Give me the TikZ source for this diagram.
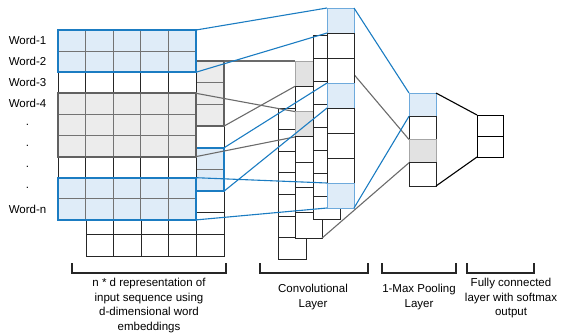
\documentclass[tikz,border=0pt]{standalone}
\usepackage{fontspec}
\setmainfont{Liberation Sans}
\usepackage{tikz}
\definecolor{cnnblue}{RGB}{27,124,194}
\definecolor{skyblue}{RGB}{110,170,220}
\definecolor{lightblue}{RGB}{223,236,248}
\definecolor{lightgrey}{RGB}{236,236,236}
\definecolor{midgrey}{RGB}{226,226,226}

\begin{document}
\begin{tikzpicture}
		[x=1pt, y=-1pt,
		cell/.style = {draw=black!85, line width=0.9pt, fill=white, inner sep=0pt, outer sep=0pt, anchor=north west},
		wblue/.style = {cell, fill=lightblue, draw=black!55},
		wgrey/.style = {cell, fill=lightgrey, draw=black!55},
		bluecell/.style = {cell, fill=lightblue, draw=skyblue, line width=1pt},
		greycell/.style = {cell, fill=midgrey, draw=black!35, line width=1pt},
		bluebox/.style = {draw=cnnblue, line width=2.2pt, inner sep=0pt, outer sep=0pt, anchor=north west},
		greybox/.style = {draw=black!62, line width=2.2pt, inner sep=0pt, outer sep=0pt, anchor=north west},
		bluelink/.style = {draw=cnnblue, line width=1.1pt},
		greylink/.style = {draw=black!58, line width=1.1pt},
		blacklink/.style = {draw=black, line width=1.1pt},
		brace/.style = {draw=black!85, line width=1.2pt},
		word/.style = {font=\fontsize{11.5}{14}\selectfont, inner sep=0pt},
		caption/.style = {font=\fontsize{11.5}{14.5}\selectfont, align=center, inner sep=0pt, anchor=north}]
	\useasboundingbox (0,0) rectangle (561,335);

	\foreach \r/\s in {0/wgrey,1/wgrey,2/wgrey,3/cell,4/wblue,5/wblue,6/cell,7/cell,8/cell}
		\foreach \c in {0,...,4}
			\node[\s, minimum width=27.6pt, minimum height=21.7pt] (b\r-\c) at ({86+27.6*\c},{61+21.7*\r}) {};
	\node[greybox, minimum width=138pt, minimum height=65.1pt] (bg) at (86,61) {};
	\node[bluebox, minimum width=138pt, minimum height=43.4pt] (bb) at (86,147.8) {};

	\foreach \r/\s in {0/wblue,1/wblue,2/cell,3/wgrey,4/wgrey,5/wgrey,6/cell,7/wblue,8/wblue}
		\foreach \c in {0,...,4}
			\node[\s, minimum width=27.6pt, minimum height=21.1pt] (w\r-\c) at ({58+27.6*\c},{30+21.1*\r}) {};
	\node[bluebox, minimum width=138pt, minimum height=42.2pt] (f1) at (58,30) {};
	\node[greybox, minimum width=138pt, minimum height=63.3pt] (fg) at (58,93.3) {};
	\node[bluebox, minimum width=138pt, minimum height=42.2pt] (f2) at (58,177.7) {};

	\foreach \r/\t in {0/Word-1,1/Word-2,2/Word-3,3/Word-4,4/.,5/.,6/.,7/.,8/Word-n}
		\node[word] (l\r) at (27.5,{40.5+21.1*\r}) {\t};

	\foreach \i in {1,...,7}
		\node[cell, minimum width=28pt, minimum height=21.6pt] (D\i) at (278,{108+21.6*(\i-1)}) {};
	\foreach \i/\s in {1/greycell,2/cell,3/greycell,4/cell,5/cell,6/cell,7/cell}
		\node[\s, minimum width=27pt, minimum height=25.3pt] (C\i) at (295,{61+25.3*(\i-1)}) {};
	\foreach \i in {1,...,8}
		\node[cell, minimum width=27pt, minimum height=23pt] (B\i) at (313,{35+23*(\i-1)}) {};

	\draw[greylink] (bg.north east) -- (C1.north west);
	\draw[greylink] (bg.south east) -- (C1.south west);
	\draw[greylink] (fg.north east) -- (C3.north west);
	\draw[greylink] (fg.south east) -- (C3.south west);

	\foreach \i in {1,...,4}
		\node[cell, minimum width=27pt, minimum height=23.25pt] (P\i) at (409,{93+23.25*(\i-1)}) {};
	\draw[greylink] (B1.south east) -- (P3.north west);

	\foreach \i/\s in {1/bluecell,2/cell,3/cell,4/bluecell,5/cell,6/cell,7/cell,8/bluecell}
		\node[\s, minimum width=27pt, minimum height=25pt] (A\i) at (327,{8+25*(\i-1)}) {};

	\foreach \i/\s in {1/bluecell,2/cell,3/greycell,4/cell}
		\node[\s, minimum width=27pt, minimum height=23.25pt] at (P\i.north west) {};
	\foreach \i in {1,2}
		\node[cell, draw=black, minimum width=26pt, minimum height=21pt] (F\i) at (477,{115+21*(\i-1)}) {};

	\draw[bluelink] (f1.north east) -- (A1.north west);
	\draw[bluelink] (f1.south east) -- (A1.south west);
	\draw[bluelink] (bb.north east) -- (A4.north west);
	\draw[bluelink] (bb.south east) -- (A4.south west);
	\draw[bluelink] (f2.north east) -- (A8.north west);
	\draw[bluelink] (f2.south east) -- (A8.south west);
	\draw[greylink] (C7.south east) -- (P4.north west);
	\draw[bluelink] (A1.north east) -- (P1.north west);
	\draw[bluelink] (A8.south east) -- (P1.south west);
	\draw[blacklink] (P1.north east) -- (F1.north west);
	\draw[blacklink] (P4.south east) -- (F2.south west);

	\draw[brace] (72,263) -- (72,273) -- (226,273) -- (226,263);
	\draw[brace] (260,263) -- (260,273) -- (368,273) -- (368,263);
	\draw[brace] (382,263) -- (382,273) -- (456,273) -- (456,263);
	\draw[brace] (467,263) -- (467,273) -- (534,273) -- (534,263);
	\node[caption] (t1) at (149,278) {n * d representation of\\input sequence using\\d-dimensional word\\embeddings};
	\node[caption] (t2) at (313,284) {Convolutional\\Layer};
	\node[caption] (t3) at (419,284) {1-Max Pooling\\Layer};
	\node[caption] (t4) at (511,278) {Fully connected\\layer with softmax\\output};
\end{tikzpicture}
\end{document}
